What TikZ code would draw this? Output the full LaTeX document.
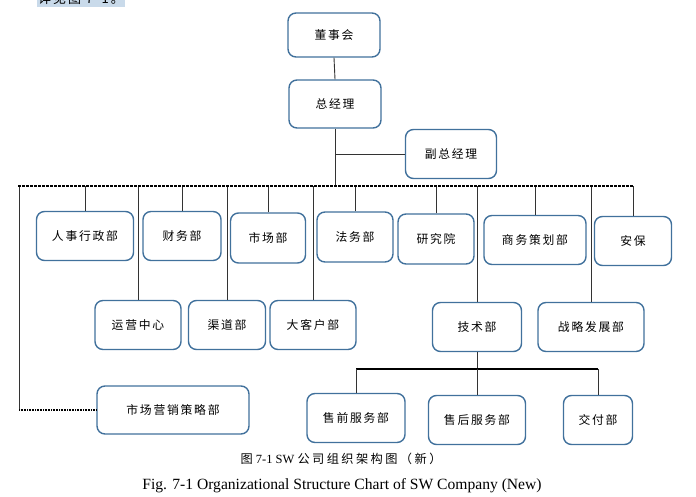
\documentclass[tikz,border=0pt]{standalone}
\usepackage{fontspec}
\setmainfont{Liberation Serif}
\newfontfamily\cjk[LetterSpace=15]{Noto Sans CJK SC}
\newfontfamily\cjkcap[LetterSpace=20]{Noto Sans CJK SC}
\definecolor{boxblue}{HTML}{41719C}
\definecolor{hilite}{HTML}{C9DAEA}
\begin{document}
\begin{tikzpicture}[x=1pt,y=-1pt,
  box/.style={draw=boxblue, line width=1.4pt, rounded corners=8pt, fill=white,
    font=\cjk\fontsize{11.8}{13}\selectfont, inner sep=0pt},
  conn/.style={draw=black!80, line width=0.9pt},
  busline/.style={draw=black, line width=1.4pt, dash pattern=on 3pt off 1pt},
  dotline/.style={draw=black, line width=1.3pt, dash pattern=on 1pt off 0.6pt},
  techbus/.style={draw=black, line width=1.8pt}]
\useasboundingbox (0,0) rectangle (696,497);
\begin{scope}
\clip (0,0) rectangle (696,497);
\fill[hilite] (37,-10) rectangle (125,7);
\node[font=\cjk\fontsize{13}{15}\selectfont, inner sep=0pt] (note) at (81,-1) {详见图 7-1。};
\end{scope}
% nodes
\node[box, minimum width=92, minimum height=44] (board) at (334,35) {董事会};
\node[box, minimum width=92, minimum height=48] (gm) at (335,104) {总经理};
\node[box, minimum width=91, minimum height=49] (vgm) at (451,154) {副总经理};
\node[box, minimum width=97, minimum height=49] (hr) at (85,236) {人事行政部};
\node[box, minimum width=78, minimum height=49] (fin) at (182,236) {财务部};
\node[box, minimum width=75, minimum height=50] (mkt) at (268,238) {市场部};
\node[box, minimum width=76, minimum height=50] (law) at (355,237) {法务部};
\node[box, minimum width=76, minimum height=50] (ri) at (436,239) {研究院};
\node[box, minimum width=102, minimum height=49] (biz) at (535,240) {商务策划部};
\node[box, minimum width=77, minimum height=49] (sec) at (633,241) {安保};
\node[box, minimum width=86, minimum height=49] (ops) at (138,325) {运营中心};
\node[box, minimum width=77, minimum height=49] (chn) at (227,325) {渠道部};
\node[box, minimum width=86, minimum height=49] (ka) at (313,325) {大客户部};
\node[box, minimum width=89, minimum height=49] (tech) at (477,327) {技术部};
\node[box, minimum width=106, minimum height=49] (strat) at (591,327) {战略发展部};
\node[box, minimum width=152, minimum height=48] (mms) at (173,410) {市场营销策略部};
\node[box, minimum width=98, minimum height=49] (pre) at (356,418) {售前服务部};
\node[box, minimum width=97, minimum height=49] (post) at (477,420) {售后服务部};
\node[box, minimum width=69, minimum height=49] (deliv) at (598,420) {交付部};
% coordinates
\coordinate (busL) at (18,186);
\coordinate (busR) at (634,186);
\coordinate (lc) at (19,410);
\coordinate (tb) at (477,369);
% connectors
\draw[conn] (board.south) -- (gm.north);
\draw[conn] (gm.south) -- (gm.south |- busL);
\draw[conn] (vgm.west) -- (vgm.west -| gm.south);
\foreach \n in {hr,fin,mkt,law,ri,biz,sec,ops,chn,ka,tech,strat}
  \draw[conn] (\n.north) -- (\n.north |- busL);
\draw[conn] (busL -| lc) -- (lc);
\draw[dotline] (lc) -- (mms.west);
\draw[busline] (busL) -- (busR);
\draw[conn] (tech.south) -- (tb);
\draw[techbus] (pre.north |- tb) -- (deliv.north |- tb);
\draw[conn] (pre.north |- tb) -- (pre.north);
\draw[conn] (tb) -- (post.north);
\draw[conn] (deliv.north |- tb) -- (deliv.north);
% captions
\node[inner sep=0pt, font=\fontsize{12.5}{14}\selectfont] (cap1) at (341,459)
  {{\cjkcap\fontsize{12.2}{14}\selectfont 图} 7-1 SW {\cjkcap\fontsize{12.2}{14}\selectfont 公司组织架构图（新）}};
\node[inner sep=0pt, font=\fontsize{15.6}{17}\selectfont] (cap2) at (342,486)
  {Fig. 7-1 Organizational Structure Chart of SW Company (New)};
\end{tikzpicture}
\end{document}
